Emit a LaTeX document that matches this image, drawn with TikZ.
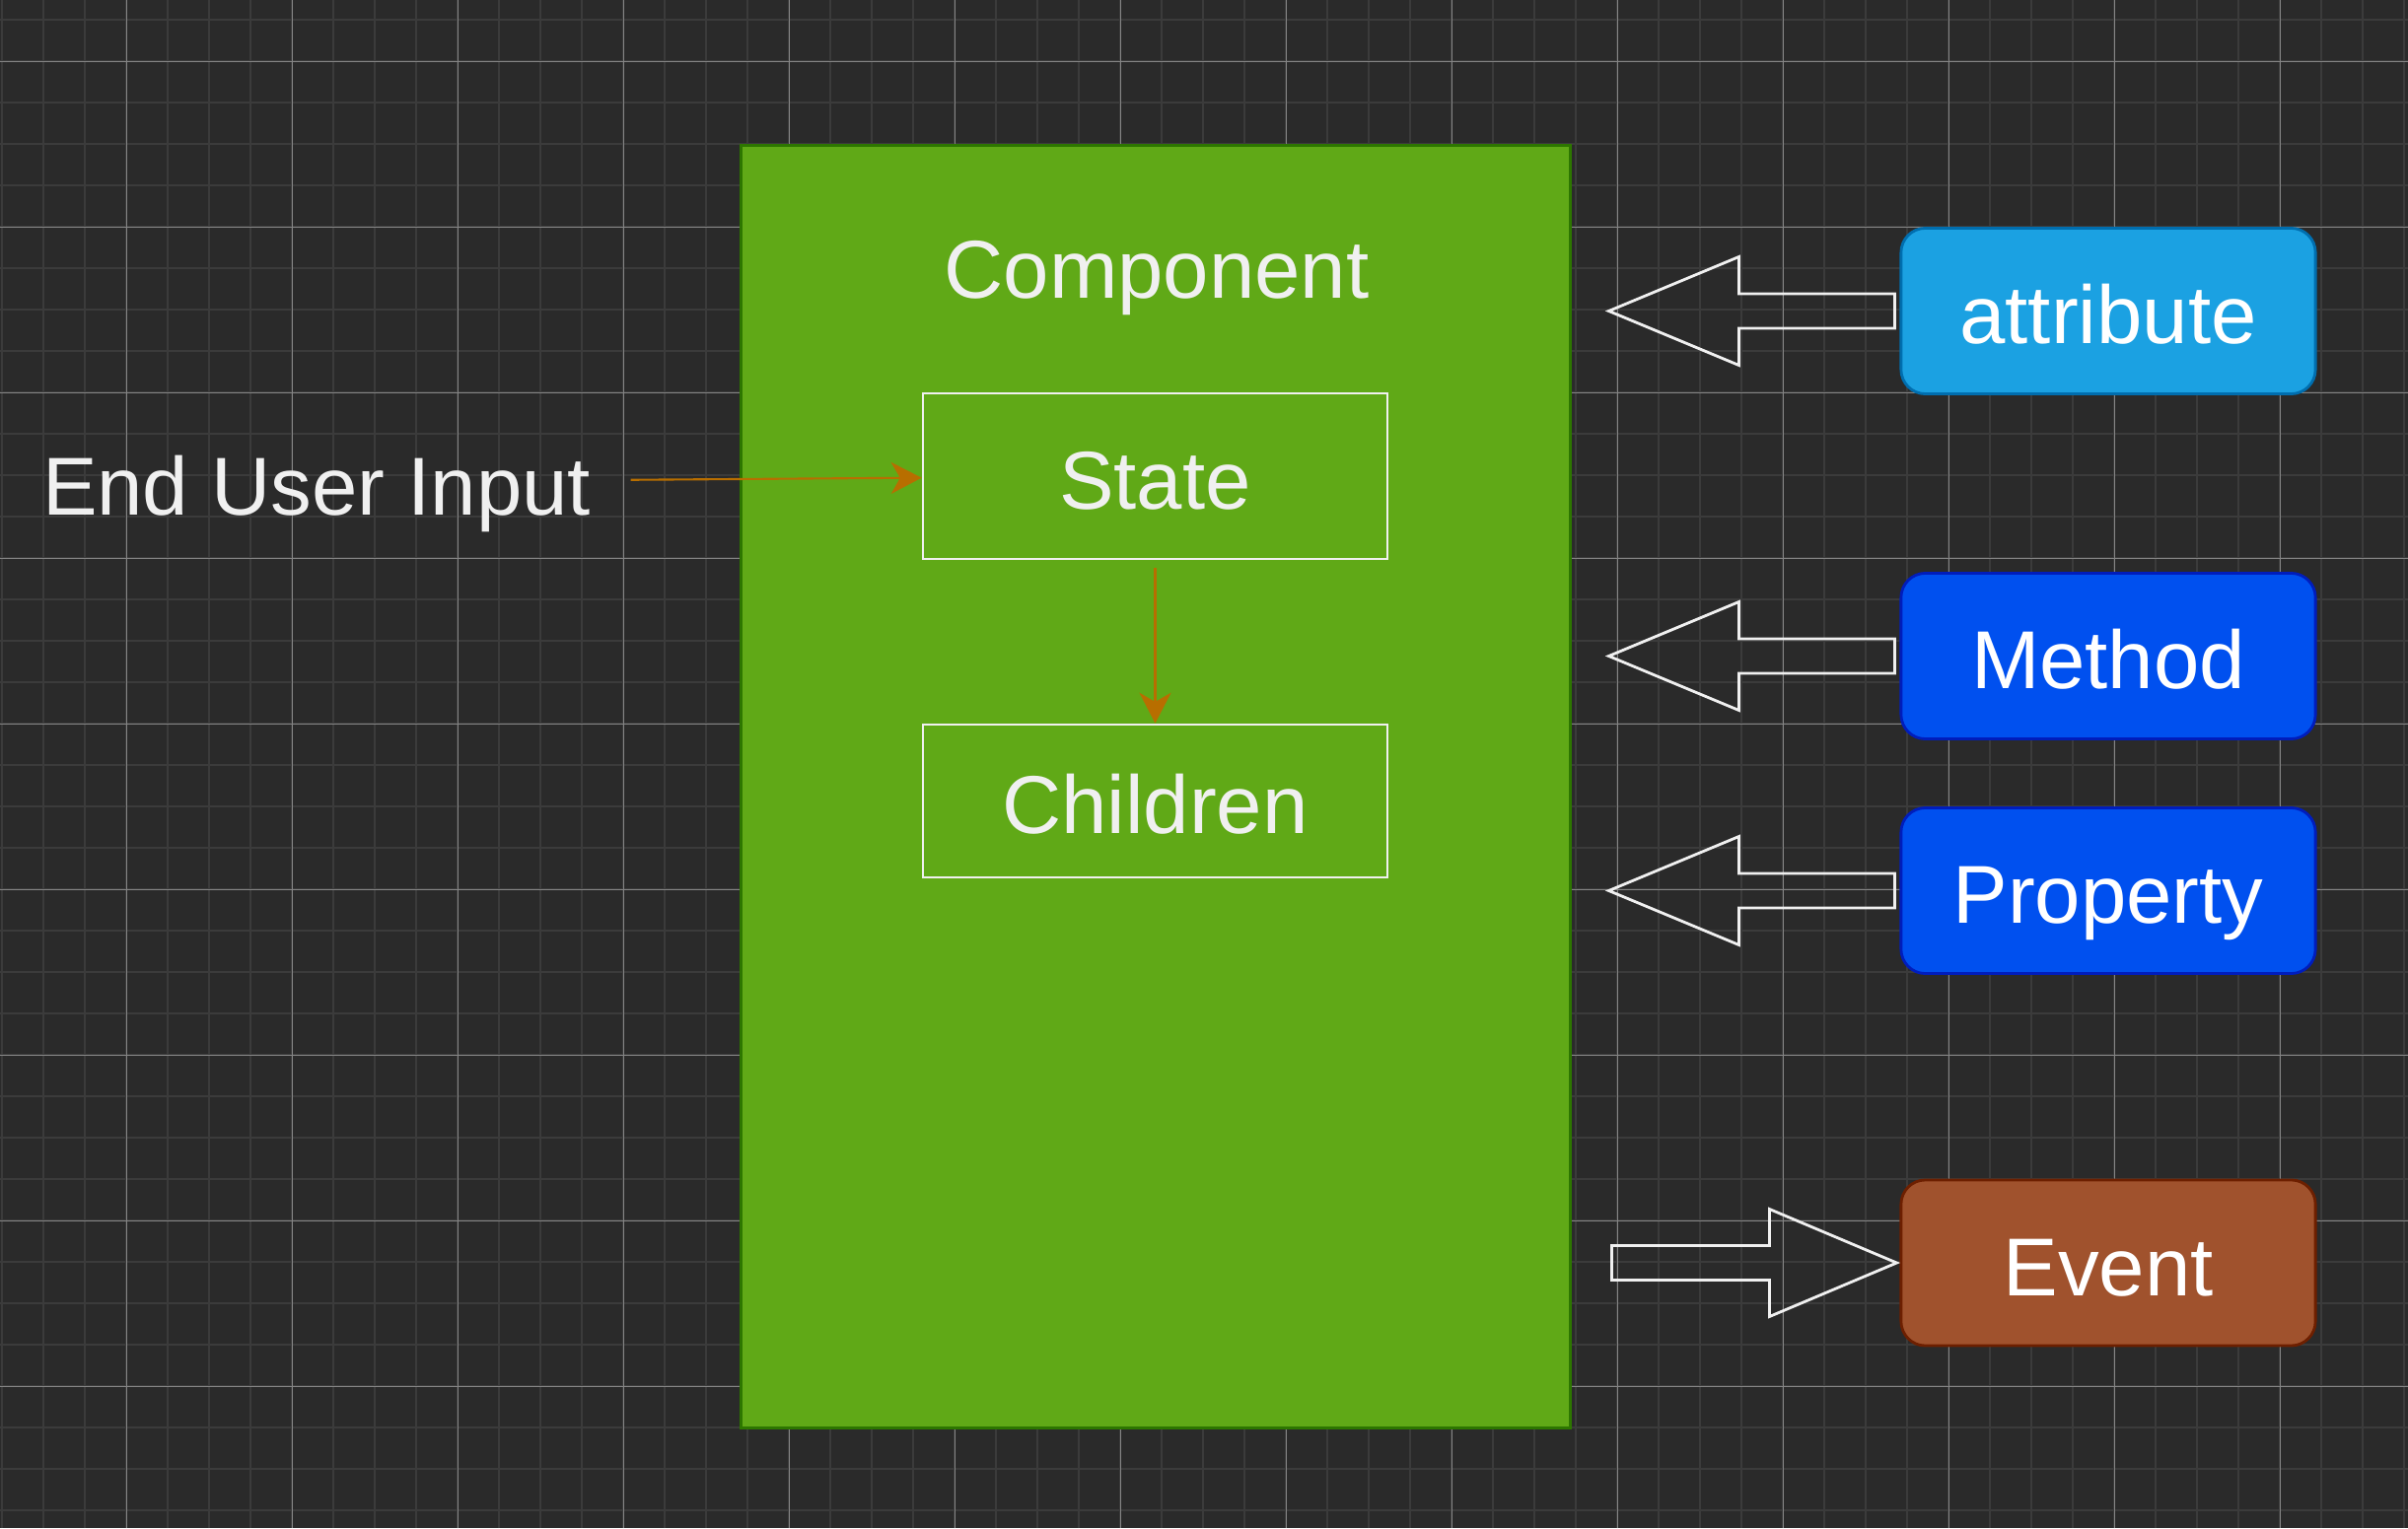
\documentclass[tikz,border=0pt]{standalone}
\usepackage{fontspec}
\setmainfont{Liberation Sans}
\usetikzlibrary{arrows.meta}

\definecolor{bgdark}{HTML}{2A2A2A}
\definecolor{gridminor}{HTML}{3B3B3B}
\definecolor{gridmajor}{HTML}{858585}
\definecolor{compfill}{HTML}{60A917}
\definecolor{compline}{HTML}{2D7600}
\definecolor{flowline}{HTML}{B86E00}
\definecolor{attrfill}{HTML}{1BA1E2}
\definecolor{attrline}{HTML}{006EAF}
\definecolor{callfill}{HTML}{0050EF}
\definecolor{callline}{HTML}{001DBC}
\definecolor{eventfill}{HTML}{A0522D}
\definecolor{eventline}{HTML}{6D1F00}
\definecolor{textlight}{HTML}{F0F0F0}

\tikzset{
  bigtext/.style={font=\fontsize{23.7}{28}\selectfont, text height=23pt, text depth=4pt},
  lighttext/.style={bigtext, text=textlight},
  innerbox/.style={lighttext, draw=textlight, line width=0.7pt, minimum width=4.71cm},
  apibox/.style={bigtext, text=white, rounded corners=7pt, line width=0.8pt,
    minimum width=4.2cm, minimum height=1.68cm},
  hollow/.style={draw=textlight, line width=0.8pt, line join=miter},
  flow/.style={draw=flowline, line width=0.6pt,
    -{Stealth[length=8.8pt, width=9.1pt, inset=2.6pt]}}
}

\begin{document}
\begin{tikzpicture}[x=0.01cm, y=0.01cm]

    % Background and grid
    \useasboundingbox (0,0) rectangle (2442,1550);
    \fill[bgdark] (0,0) rectangle (2442,1550);
    \foreach \x in {2.3,44.3,...,2442} \draw[gridminor, line width=0.5pt] (\x,0) -- (\x,1550);
    \foreach \y in {1529.7,1487.7,...,0} \draw[gridminor, line width=0.5pt] (0,\y) -- (2442,\y);
    \foreach \x in {128.3,296.3,...,2442} \draw[gridmajor, line width=0.35pt] (\x,0) -- (\x,1550);
    \foreach \y in {1487.7,1319.7,...,0} \draw[gridmajor, line width=0.35pt] (0,\y) -- (2442,\y);

    % Component
    \node[draw=compline, fill=compfill, line width=0.8pt, minimum width=8.4cm, minimum height=13cm] (comp) at (1172,752) {};
    \node[lighttext] (title) at (1173,1281) {Component};
    \node[innerbox, minimum height=1.68cm] (state) at (1171.5,1067) {State};
    \node[innerbox, minimum height=1.55cm] (children) at (1171.5,737.5) {Children};

    % User input
    \node[lighttext] (input) at (321,1061) {End User Input};
    \draw[flow, shorten <=8pt] (input) -- (state);
    \draw[flow, shorten <=2.3pt] (state) -- (children);

    % Interface
    \node[apibox, draw=attrline, fill=attrfill] (attr) at (2138,1234.5) {attribute};
    \node[apibox, draw=callline, fill=callfill] (method) at (2138,884.5) {Method};
    \node[apibox, draw=callline, fill=callfill] (prop) at (2138,646.5) {Property};
    \node[apibox, draw=eventline, fill=eventfill] (event) at (2138,269) {Event};

    % Block arrows
    \foreach \n in {attr,method,prop}
        \draw[hollow] (\n.west) ++(-5,17.5) -- ++(-158,0) -- ++(0,37.5) -- ++(-132,-55)
            -- ++(132,-55) -- ++(0,37.5) -- ++(158,0) -- cycle;
    \draw[hollow] (event.west) ++(-3,0) -- ++(-129,54.5) -- ++(0,-37) -- ++(-160,0)
        -- ++(0,-35) -- ++(160,0) -- ++(0,-37) -- cycle;

\end{tikzpicture}
\end{document}
